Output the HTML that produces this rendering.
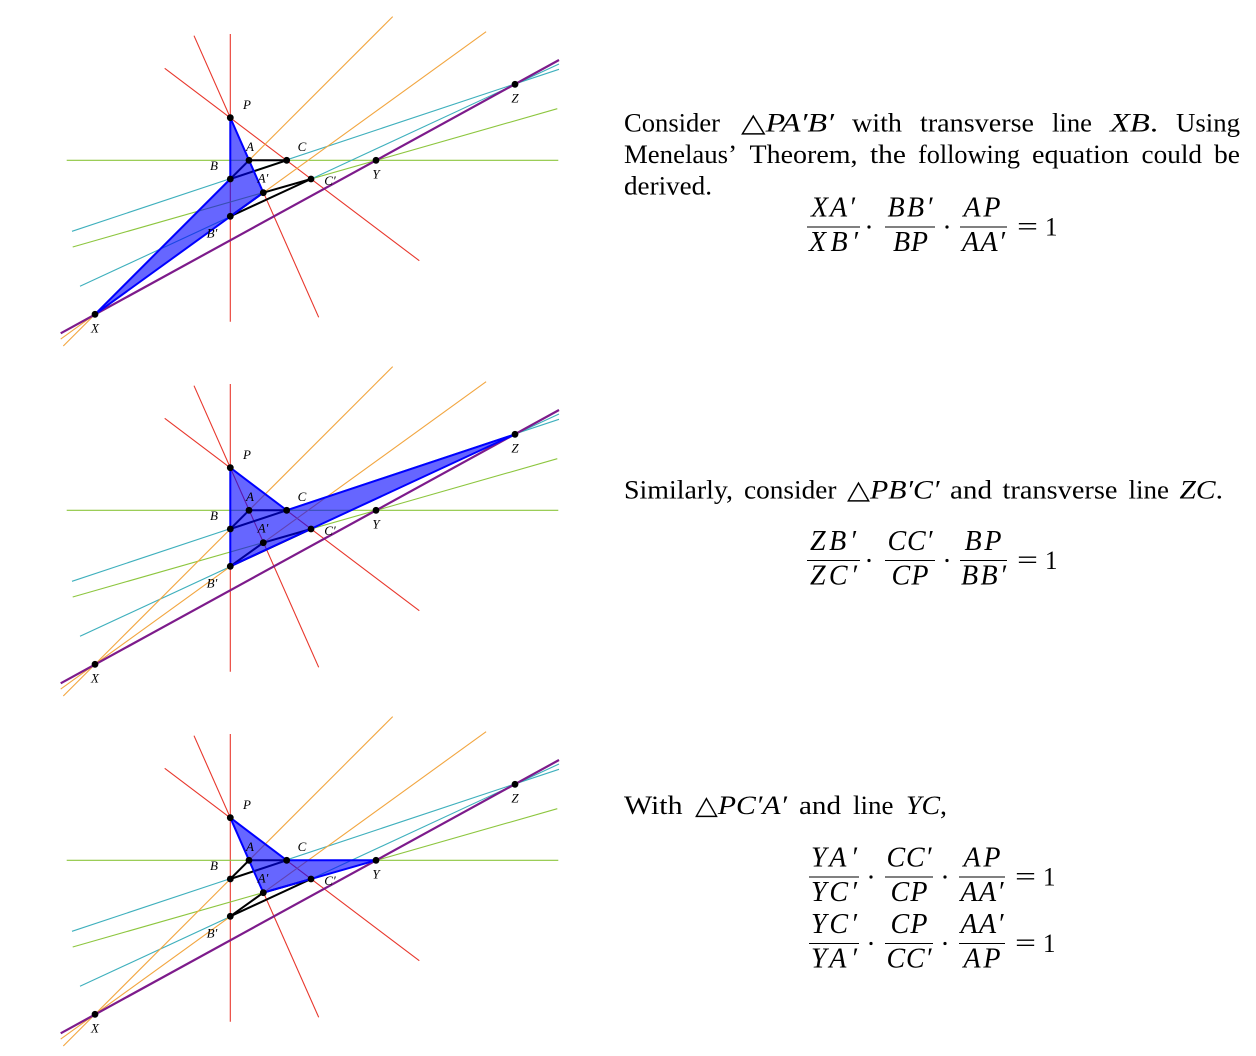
<!DOCTYPE html>
<html><head><meta charset="utf-8"><style>
html,body{margin:0;padding:0;background:#fff;}
svg{display:block;}
.t{font-family:"Liberation Serif","DejaVu Serif",serif;font-size:26px;fill:#000;}
.i{font-style:italic;}
.m{font-family:"Liberation Serif","DejaVu Serif",serif;font-size:28px;font-style:italic;fill:#000;}
.lb{font-family:"Liberation Serif","DejaVu Serif",serif;font-size:13px;font-style:italic;fill:#000;}
</style></head><body>
<svg width="1256" height="1056" viewBox="0 0 1256 1056" xmlns="http://www.w3.org/2000/svg">
<defs>
<g id="base" fill="none">
<line x1="230.3" y1="34" x2="230.3" y2="321.7" stroke="#e8372c" stroke-width="1.1"/>
<line x1="194" y1="35.7" x2="318.7" y2="317.3" stroke="#e8372c" stroke-width="1.1"/>
<line x1="164.7" y1="68.3" x2="419.3" y2="260.7" stroke="#e8372c" stroke-width="1.1"/>
<line x1="66.7" y1="160.3" x2="558.3" y2="160.3" stroke="#8dc63f" stroke-width="1.1"/>
<line x1="72.7" y1="247" x2="557.3" y2="108.7" stroke="#8dc63f" stroke-width="1.1"/>
<line x1="72" y1="231.3" x2="559" y2="69.3" stroke="#3fb0bd" stroke-width="1.1"/>
<line x1="80" y1="286.3" x2="559" y2="64" stroke="#3fb0bd" stroke-width="1.1"/>
<line x1="392.7" y1="16.6" x2="63.3" y2="346" stroke="#f2a640" stroke-width="1.1"/>
<line x1="486.1" y1="31.7" x2="60.7" y2="339.1" stroke="#f2a640" stroke-width="1.1"/>
<line x1="60.7" y1="333.3" x2="559" y2="60" stroke="#7d1b8b" stroke-width="2.2"/>
<g stroke="#000" stroke-width="2" stroke-linecap="round">
<line x1="249" y1="160.3" x2="286.7" y2="160.3"/>
<line x1="249" y1="160.3" x2="230.3" y2="179"/>
<line x1="230.3" y1="179" x2="286.7" y2="160.3"/>
<line x1="263.3" y1="192.7" x2="311" y2="179"/>
<line x1="230.3" y1="216.3" x2="311" y2="179"/>
<line x1="263.3" y1="192.7" x2="230.3" y2="216.3"/>
</g>
</g>
<g id="dots" fill="#000">
<circle cx="230.3" cy="117.7" r="3.4"/>
<circle cx="249" cy="160.3" r="3.4"/>
<circle cx="286.7" cy="160.3" r="3.4"/>
<circle cx="230.3" cy="179" r="3.4"/>
<circle cx="263.3" cy="192.7" r="3.4"/>
<circle cx="311" cy="179" r="3.4"/>
<circle cx="230.3" cy="216.3" r="3.4"/>
<circle cx="376" cy="160.3" r="3.4"/>
<circle cx="515" cy="84.3" r="3.4"/>
<circle cx="95" cy="314.3" r="3.4"/>
</g>
</defs>

<!-- Diagram 1 -->
<g>
<use href="#base"/>
<polygon points="230.3,117.7 263.3,192.7 95,314.3 230.3,179" fill="#0000ff" fill-opacity="0.6" stroke="#0000ff" stroke-width="2" stroke-linejoin="round"/>
<use href="#dots"/>
<g class="lb" text-anchor="middle">
<text x="247" y="109">P</text><text x="250" y="151">A</text><text x="302" y="151">C</text>
<text x="214" y="170">B</text><text x="263" y="182.5">A′</text><text x="330" y="185">C′</text>
<text x="212" y="237.5">B′</text><text x="376" y="178.5">Y</text><text x="515" y="102.5">Z</text>
<text x="95" y="332.5">X</text>
</g>
</g>

<!-- Diagram 2 -->
<g transform="translate(0,350)">
<use href="#base"/>
<polygon points="230.3,117.7 286.7,160.3 515,84.3 230.3,216.3" fill="#0000ff" fill-opacity="0.6" stroke="#0000ff" stroke-width="2" stroke-linejoin="round"/>
<use href="#dots"/>
<g class="lb" text-anchor="middle">
<text x="247" y="109">P</text><text x="250" y="151">A</text><text x="302" y="151">C</text>
<text x="214" y="170">B</text><text x="263" y="182.5">A′</text><text x="330" y="185">C′</text>
<text x="212" y="237.5">B′</text><text x="376" y="178.5">Y</text><text x="515" y="102.5">Z</text>
<text x="95" y="332.5">X</text>
</g>
</g>

<!-- Diagram 3 -->
<g transform="translate(0,700)">
<use href="#base"/>
<polygon points="230.3,117.7 286.7,160.3 376,160.3 263.3,192.7" fill="#0000ff" fill-opacity="0.6" stroke="#0000ff" stroke-width="2" stroke-linejoin="round"/>
<use href="#dots"/>
<g class="lb" text-anchor="middle">
<text x="247" y="109">P</text><text x="250" y="151">A</text><text x="302" y="151">C</text>
<text x="214" y="170">B</text><text x="263" y="182.5">A′</text><text x="330" y="185">C′</text>
<text x="212" y="237.5">B′</text><text x="376" y="178.5">Y</text><text x="515" y="102.5">Z</text>
<text x="95" y="332.5">X</text>
</g>
</g>

<!-- Paragraph 1 -->
<g class="t">
<text x="624" y="131.5" textLength="96" lengthAdjust="spacingAndGlyphs">Consider</text>
<text x="741" y="131.5" textLength="93" lengthAdjust="spacingAndGlyphs">△<tspan class="i">PA′B′</tspan></text>
<text x="852" y="131.5" textLength="50" lengthAdjust="spacingAndGlyphs">with</text>
<text x="920" y="131.5" textLength="114" lengthAdjust="spacingAndGlyphs">transverse</text>
<text x="1052" y="131.5" textLength="40" lengthAdjust="spacingAndGlyphs">line</text>
<text x="1110" y="131.5" textLength="48" lengthAdjust="spacingAndGlyphs"><tspan class="i">XB</tspan>.</text>
<text x="1176" y="131.5" textLength="64" lengthAdjust="spacingAndGlyphs">Using</text>

<text x="624" y="163" textLength="113" lengthAdjust="spacingAndGlyphs">Menelaus’</text>
<text x="749.5" y="163" textLength="108" lengthAdjust="spacingAndGlyphs">Theorem,</text>
<text x="870" y="163" textLength="36" lengthAdjust="spacingAndGlyphs">the</text>
<text x="918" y="163" textLength="102" lengthAdjust="spacingAndGlyphs">following</text>
<text x="1032" y="163" textLength="97" lengthAdjust="spacingAndGlyphs">equation</text>
<text x="1141.5" y="163" textLength="60.5" lengthAdjust="spacingAndGlyphs">could</text>
<text x="1214" y="163" textLength="26" lengthAdjust="spacingAndGlyphs">be</text>

<text x="624" y="194.5" textLength="88" lengthAdjust="spacingAndGlyphs">derived.</text>
</g>

<!-- Equation 1 -->
<g class="m" text-anchor="middle">
<text x="833" y="216.5" textLength="44" lengthAdjust="spacing">XA′</text>
<text x="833.5" y="251" textLength="49" lengthAdjust="spacing">XB′</text>
<text x="910" y="216.5" textLength="45" lengthAdjust="spacing">BB′</text>
<text x="910.5" y="251" textLength="35" lengthAdjust="spacing">BP</text>
<text x="982" y="216.5" textLength="37" lengthAdjust="spacing">AP</text>
<text x="983.5" y="251" textLength="43" lengthAdjust="spacing">AA′</text>
</g>
<g stroke="#000" stroke-width="1.1">
<line x1="807" y1="227" x2="860" y2="227"/><line x1="885" y1="227" x2="935" y2="227"/><line x1="960" y1="227" x2="1007" y2="227"/>
</g>
<circle cx="869" cy="227" r="1.6"/><circle cx="947" cy="227" r="1.6"/>
<text class="t" x="1017" y="235" textLength="21" lengthAdjust="spacingAndGlyphs">=</text>
<text class="t" x="1045" y="235.5" textLength="12.5" lengthAdjust="spacingAndGlyphs">1</text>

<!-- Paragraph 2 -->
<g class="t">
<text x="624" y="498.5" textLength="109" lengthAdjust="spacingAndGlyphs">Similarly,</text>
<text x="744" y="498.5" textLength="92.5" lengthAdjust="spacingAndGlyphs">consider</text>
<text x="847" y="498.5" textLength="92.5" lengthAdjust="spacingAndGlyphs">△<tspan class="i">PB′C′</tspan></text>
<text x="950" y="498.5" textLength="42" lengthAdjust="spacingAndGlyphs">and</text>
<text x="1002.5" y="498.5" textLength="115" lengthAdjust="spacingAndGlyphs">transverse</text>
<text x="1128.5" y="498.5" textLength="40.5" lengthAdjust="spacingAndGlyphs">line</text>
<text x="1179.5" y="498.5" textLength="43.5" lengthAdjust="spacingAndGlyphs"><tspan class="i">ZC</tspan>.</text>
</g>

<!-- Equation 2 -->
<g class="m" text-anchor="middle">
<text x="833" y="550" textLength="46" lengthAdjust="spacing">ZB′</text>
<text x="833.5" y="584.5" textLength="47" lengthAdjust="spacing">ZC′</text>
<text x="910" y="550" textLength="45" lengthAdjust="spacing">CC′</text>
<text x="910" y="584.5" textLength="37" lengthAdjust="spacing">CP</text>
<text x="983" y="550" textLength="37" lengthAdjust="spacing">BP</text>
<text x="983.5" y="584.5" textLength="45" lengthAdjust="spacing">BB′</text>
</g>
<g stroke="#000" stroke-width="1.1">
<line x1="807" y1="560.5" x2="860" y2="560.5"/><line x1="885" y1="560.5" x2="935" y2="560.5"/><line x1="960" y1="560.5" x2="1007" y2="560.5"/>
</g>
<circle cx="869" cy="560.5" r="1.6"/><circle cx="947" cy="560.5" r="1.6"/>
<text class="t" x="1017" y="568.5" textLength="21" lengthAdjust="spacingAndGlyphs">=</text>
<text class="t" x="1045" y="569" textLength="12.5" lengthAdjust="spacingAndGlyphs">1</text>

<!-- Paragraph 3 -->
<g class="t">
<text x="624" y="814" textLength="58.5" lengthAdjust="spacingAndGlyphs">With</text>
<text x="695" y="814" textLength="92" lengthAdjust="spacingAndGlyphs">△<tspan class="i">PC′A′</tspan></text>
<text x="799" y="814" textLength="42" lengthAdjust="spacingAndGlyphs">and</text>
<text x="853" y="814" textLength="40.5" lengthAdjust="spacingAndGlyphs">line</text>
<text x="906" y="814" textLength="41" lengthAdjust="spacingAndGlyphs"><tspan class="i">YC</tspan>,</text>
</g>

<!-- Equation 3a -->
<g class="m" text-anchor="middle">
<text x="834" y="866.5" textLength="46" lengthAdjust="spacing">YA′</text>
<text x="834" y="901" textLength="46" lengthAdjust="spacing">YC′</text>
<text x="909" y="866.5" textLength="45" lengthAdjust="spacing">CC′</text>
<text x="909" y="901" textLength="37" lengthAdjust="spacing">CP</text>
<text x="982" y="866.5" textLength="37" lengthAdjust="spacing">AP</text>
<text x="982" y="901" textLength="43" lengthAdjust="spacing">AA′</text>
</g>
<g stroke="#000" stroke-width="1.1">
<line x1="809" y1="877" x2="859" y2="877"/><line x1="885" y1="877" x2="933" y2="877"/><line x1="959" y1="877" x2="1005" y2="877"/>
</g>
<circle cx="871" cy="877" r="1.6"/><circle cx="945" cy="877" r="1.6"/>
<text class="t" x="1015" y="885" textLength="21" lengthAdjust="spacingAndGlyphs">=</text>
<text class="t" x="1043" y="885.5" textLength="12.5" lengthAdjust="spacingAndGlyphs">1</text>

<!-- Equation 3b -->
<g class="m" text-anchor="middle">
<text x="834" y="933" textLength="46" lengthAdjust="spacing">YC′</text>
<text x="834" y="967.5" textLength="46" lengthAdjust="spacing">YA′</text>
<text x="909" y="933" textLength="37" lengthAdjust="spacing">CP</text>
<text x="909" y="967.5" textLength="45" lengthAdjust="spacing">CC′</text>
<text x="982" y="933" textLength="43" lengthAdjust="spacing">AA′</text>
<text x="982" y="967.5" textLength="37" lengthAdjust="spacing">AP</text>
</g>
<g stroke="#000" stroke-width="1.1">
<line x1="809" y1="943.5" x2="859" y2="943.5"/><line x1="885" y1="943.5" x2="933" y2="943.5"/><line x1="959" y1="943.5" x2="1005" y2="943.5"/>
</g>
<circle cx="871" cy="943.5" r="1.6"/><circle cx="945" cy="943.5" r="1.6"/>
<text class="t" x="1015" y="951.5" textLength="21" lengthAdjust="spacingAndGlyphs">=</text>
<text class="t" x="1043" y="952" textLength="12.5" lengthAdjust="spacingAndGlyphs">1</text>
</svg>
</body></html>
